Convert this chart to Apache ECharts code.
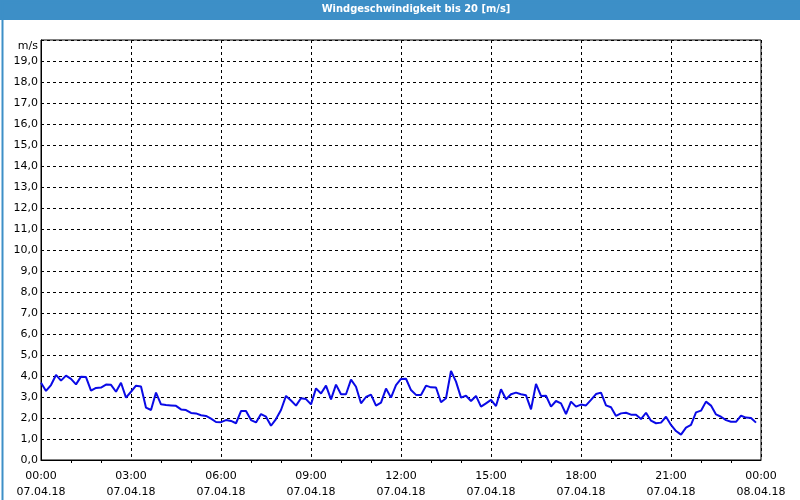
<!DOCTYPE html>
<html>
<head>
<meta charset="utf-8">
<script src="https://cdn.jsdelivr.net/npm/echarts@6/dist/echarts.min.js"></script>
<style>
html,body{margin:0;padding:0;background:#fff;}
#c{width:800px;height:500px;}
</style>
</head>
<body>
<div id="c"></div>
<script>
// Wind speed [m/s], 10-minute samples starting 07.04.18 00:00
const windSpeed = [
  3.68,3.29,3.57,4.05,3.78,4.02,3.86,3.60,3.97,3.95,3.30,3.43,3.45,3.59,3.58,3.25,3.68,2.97,3.25,3.54,3.50,2.49,2.38,3.21,2.65,2.62,2.60,2.58,2.41,2.38,2.24,2.22,2.13,2.10,1.97,1.81,
  1.80,1.90,1.86,1.75,2.33,2.33,1.90,1.79,2.19,2.06,1.63,1.95,2.38,3.05,2.83,2.59,2.94,2.90,2.65,3.41,3.17,3.54,2.89,3.59,3.13,3.13,3.83,3.49,2.70,3.00,3.11,2.59,2.73,3.40,2.97,3.57,
  3.86,3.87,3.33,3.10,3.10,3.54,3.46,3.45,2.75,2.94,4.24,3.73,2.97,3.06,2.81,3.05,2.54,2.70,2.86,2.57,3.37,2.89,3.13,3.21,3.13,3.08,2.41,3.62,3.05,3.06,2.54,2.81,2.70,2.19,2.78,2.54,
  2.64,2.60,2.86,3.14,3.21,2.60,2.51,2.10,2.22,2.25,2.16,2.16,1.95,2.25,1.87,1.75,1.78,2.06,1.67,1.38,1.21,1.54,1.67,2.27,2.35,2.78,2.59,2.17,2.06,1.90,1.82,1.82,2.11,2.02,2.00,1.78
];
const sampleMinutes = 10;
const hourTicks = ['00:00','03:00','06:00','09:00','12:00','15:00','18:00','21:00','00:00'];
const dateTicks = ['07.04.18','07.04.18','07.04.18','07.04.18','07.04.18','07.04.18','07.04.18','07.04.18','08.04.18'];
const titleText = 'Windgeschwindigkeit bis 20 [m/s]';
const unitText = 'm/s';

const seriesData = windSpeed.map((v, i) => [i * sampleMinutes / 60, v]);
const font = 'DejaVu Sans, Verdana, sans-serif';

const chart = echarts.init(document.getElementById('c'), null, {renderer: 'canvas'});
chart.setOption({
  animation: false,
  backgroundColor: '#ffffff',
  grid: {left: 41, right: 39, top: 40, bottom: 40, show: true, borderColor: '#000', borderWidth: 1, backgroundColor: 'transparent'},
  graphic: [
    {type: 'rect', left: 0, top: 0, shape: {width: 800, height: 20}, style: {fill: '#3d8fc7'}, z: 1},
    {type: 'rect', left: 0, top: 0, shape: {x: 0.5, y: 0.5, width: 799, height: 499}, style: {fill: null, stroke: '#3d8fc7', lineWidth: 2}, z: 1},
    {type: 'text', x: 416, y: 4, style: {text: titleText, fill: '#ffffff', font: 'bold 11px "DejaVu Sans Condensed", "Liberation Sans", sans-serif', textAlign: 'center'}, z: 2},
    {type: 'text', right: 762, top: 41, style: {text: unitText, fill: '#000', font: '11px ' + font}, z: 2}
  ],
  xAxis: {
    type: 'value', min: 0, max: 24, interval: 3,
    axisLine: {show: true, lineStyle: {color: '#000', width: 1}},
    axisTick: {show: false},
    minorTick: {show: true, splitNumber: 3, length: 3, lineStyle: {color: '#000', width: 1}},
    minorSplitLine: {show: false},
    splitLine: {show: true, lineStyle: {color: '#000', type: [3, 3], width: 1}},
    axisLabel: {
      color: '#000', fontFamily: font, fontSize: 11, lineHeight: 16, margin: 8,
      showMinLabel: true, showMaxLabel: true,
      formatter: (v) => { const i = Math.round(v / 3); return hourTicks[i] + '\n' + dateTicks[i]; }
    }
  },
  yAxis: {
    type: 'value', min: 0, max: 20, interval: 1,
    axisLine: {show: true, lineStyle: {color: '#000', width: 1}},
    axisTick: {show: false},
    splitLine: {show: true, lineStyle: {color: '#000', type: [3, 3], width: 1}},
    axisLabel: {
      color: '#000', fontFamily: font, fontSize: 11, margin: 3,
      formatter: (v) => v >= 20 ? '' : v.toFixed(1).replace('.', ',')
    }
  },
  series: [{
    type: 'line', data: seriesData, showSymbol: false, symbol: 'none',
    lineStyle: {color: '#0a0ae6', width: 2}, z: 3
  }]
});
</script>
</body>
</html>
